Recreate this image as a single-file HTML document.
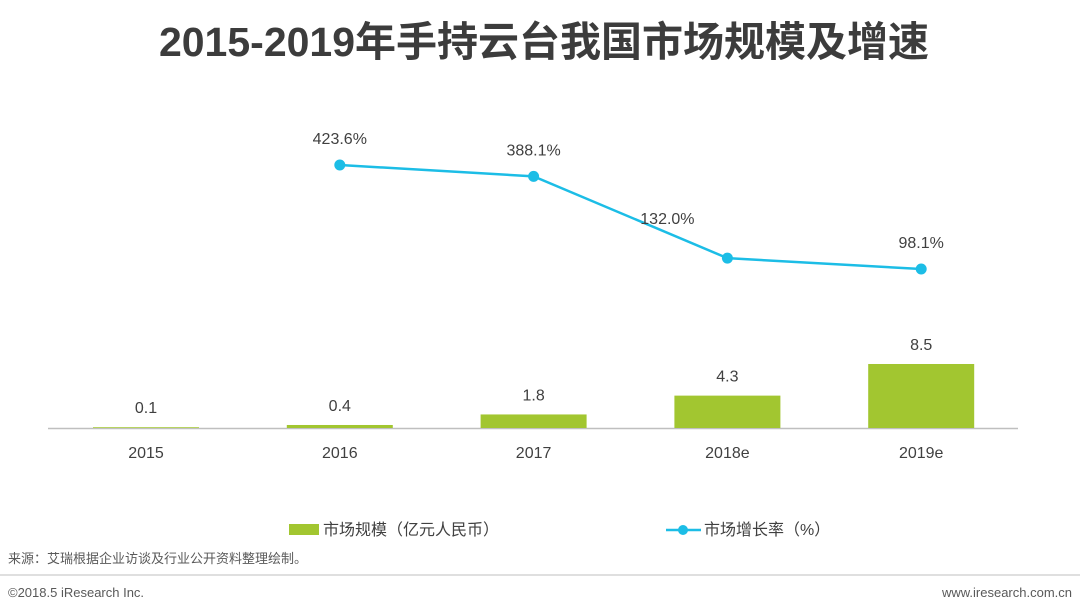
<!DOCTYPE html>
<html><head><meta charset="utf-8"><style>
body{margin:0;width:1080px;height:608px;background:#fff;overflow:hidden;font-family:"Liberation Sans","Noto Sans CJK SC",sans-serif;}
</style></head><body>
<svg width="1080" height="608" xmlns="http://www.w3.org/2000/svg" style="font-family:'Liberation Sans','Noto Sans CJK SC',sans-serif">
<text x="544" y="56" text-anchor="middle" font-size="41" font-weight="bold" fill="#3c3c3c">2015-2019年手持云台我国市场规模及增速</text>
<line x1="48" y1="428.5" x2="1018" y2="428.5" stroke="#bfbfbf" stroke-width="1.5"/>
<g id="bars"></g><g id="line"></g><g id="labels"></g>
<g><rect x="289" y="524" width="30" height="11" fill="#a2c630"/><text x="323" y="535" font-size="16" fill="#404040">市场规模（亿元人民币）</text></g>
<g><line x1="666" y1="530" x2="701" y2="530" stroke="#1cbde6" stroke-width="2.5"/><circle cx="683" cy="530" r="5" fill="#1cbde6"/><text x="704" y="535" font-size="16" fill="#404040">市场增长率（%）</text></g>
<text x="8" y="563" font-size="13" fill="#595959">来源：艾瑞根据企业访谈及行业公开资料整理绘制。</text>
<line x1="0" y1="575" x2="1080" y2="575" stroke="#bfbfbf" stroke-width="1"/>
<text x="8" y="597" font-size="13" fill="#595959">©2018.5 iResearch Inc.</text>
<text x="1072" y="597" font-size="13" fill="#595959" text-anchor="end">www.iresearch.com.cn</text>
</svg>
<script>
const categories=["2015","2016","2017","2018e","2019e"];
const marketSize=[0.1,0.4,1.8,4.3,8.5];
const sizeLabels=["0.1","0.4","1.8","4.3","8.5"];
const growth=[null,423.6,388.1,132.0,98.1];
const growthLabels=["","423.6%","388.1%","132.0%","98.1%"];
const NS="http://www.w3.org/2000/svg";
function xPos(i){return 146+i*193.8;}
function yBar(v){return 428-v*7.53;}
function yLine(v){return 165+(423.6-v)*0.3195;}
function mk(t,a,p){const e=document.createElementNS(NS,t);for(const k in a)e.setAttribute(k,a[k]);p.appendChild(e);return e;}
const gb=document.getElementById('bars'),gl=document.getElementById('line'),gt=document.getElementById('labels');
categories.forEach((c,i)=>{
 const x=xPos(i),y=yBar(marketSize[i]);
 const r=mk('rect',{x:x-53,y:y,width:106,height:428-y,fill:'#a2c630'},gb);
 
 
 const t=mk('text',{x:x,y:y-14,'text-anchor':'middle','font-size':16,fill:'#404040'},gt);t.textContent=sizeLabels[i];
 
 
 const xl=mk('text',{x:x,y:458,'text-anchor':'middle','font-size':16,fill:'#404040'},gt);xl.textContent=c;
 
 
});
let pts=[];
growth.forEach((v,i)=>{if(v!==null)pts.push([xPos(i),yLine(v),i]);});
const pl=mk('polyline',{points:pts.map(p=>p[0]+','+p[1]).join(' '),fill:'none',stroke:'#1cbde6','stroke-width':2.5},gl);


pts.forEach(p=>{
 const c=mk('circle',{cx:p[0],cy:p[1],r:5.5,fill:'#1cbde6'},gl);
 
 
 const dx=p[2]===3?-60:0;
 const dy=p[2]===3?-34:-21;
 const t=mk('text',{x:p[0]+dx,y:p[1]+dy,'text-anchor':'middle','font-size':16,fill:'#404040'},gt);t.textContent=growthLabels[p[2]];
 
 
});
</script>
</body></html>
